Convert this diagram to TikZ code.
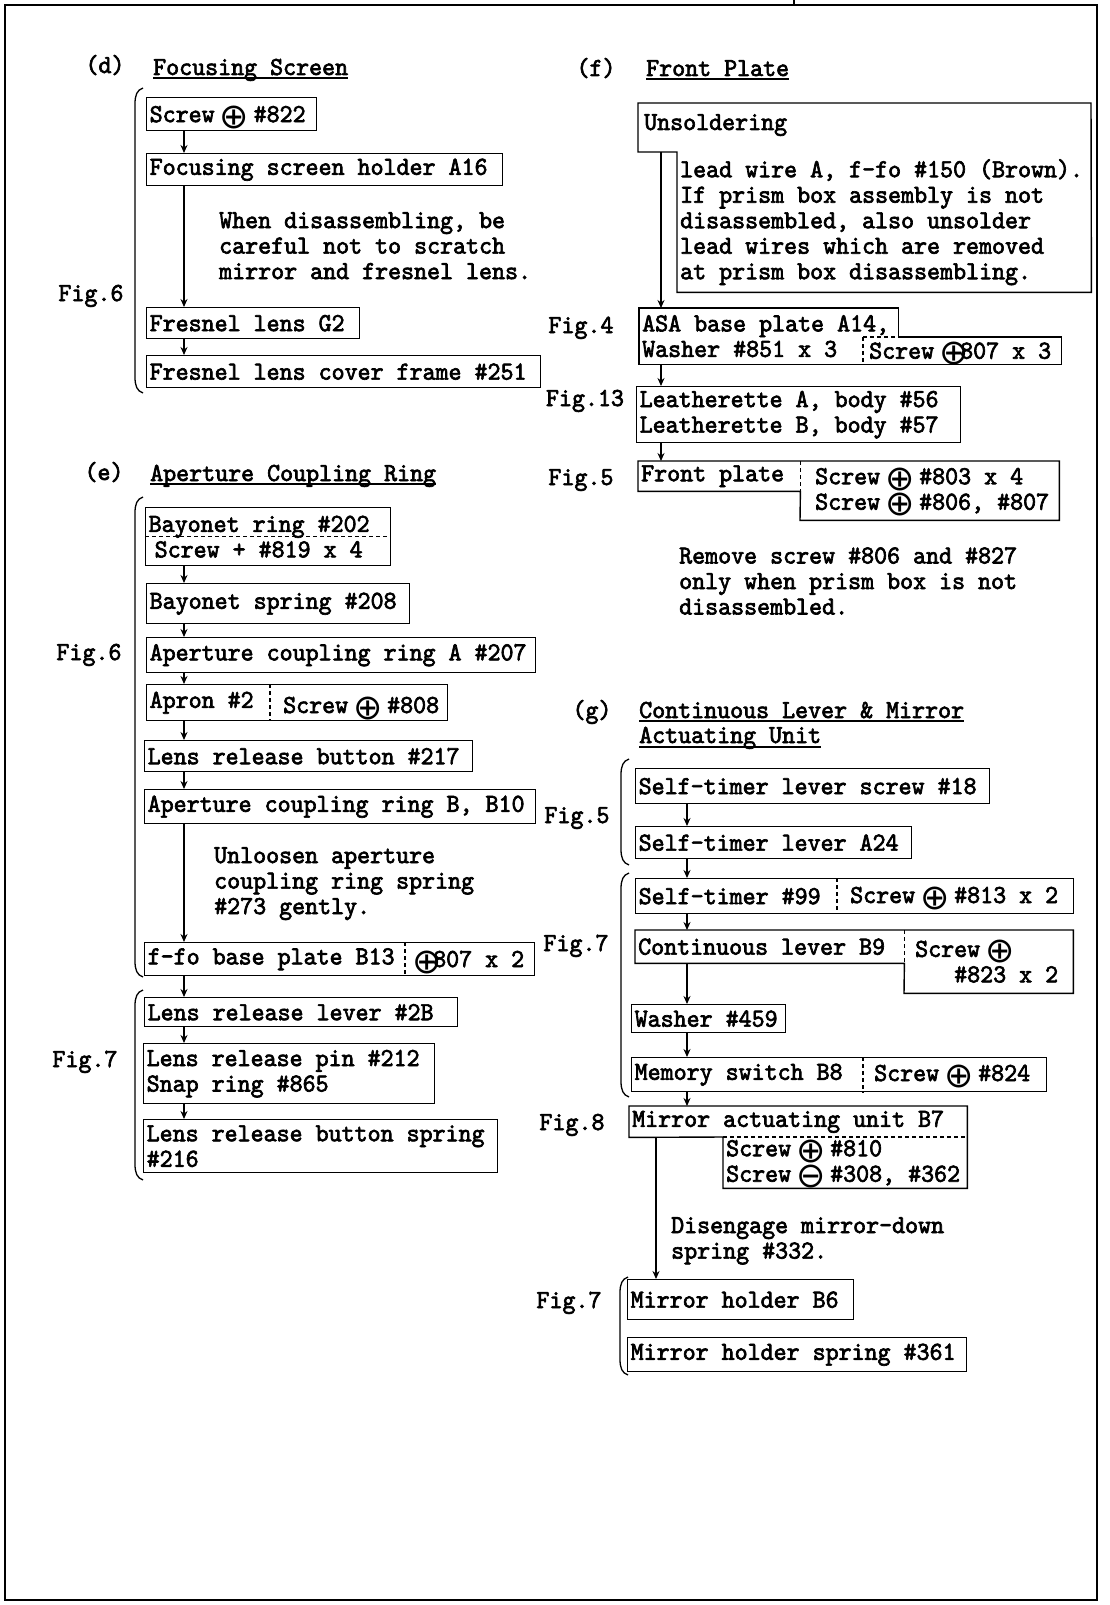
\documentclass[tikz,border=0pt]{standalone}
\usepackage{fontspec}
\usepackage{tikz}
\usetikzlibrary{arrows.meta,calc}
\newfontfamily\tw[Extension=.otf, FakeStretch=0.952, FakeBold=2.5]{lmmono10-regular}
\newfontfamily\symf{DejaVu Sans}
\newcommand\twfont{\tw\fontsize{26}{25.5}\selectfont}
\newcommand\cplus{\makebox[13pt]{\smash{\raisebox{-6pt}{\symf\fontsize{35}{35}\selectfont ⊕}}}}
\newcommand\cminus{\makebox[13pt]{\smash{\raisebox{-6pt}{\symf\fontsize{35}{35}\selectfont ⊖}}}}

\begin{document}
\begin{tikzpicture}[x=1pt, y=-1pt,
    cell/.style={anchor=north west, inner xsep=3pt, inner ysep=0pt, align=left, font=\twfont,
        execute at begin node={\spaceskip=0pt\xspaceskip=0pt}},
    partbox/.style={cell, draw, line width=1.4pt},
    txt/.style={anchor=base west, inner sep=0pt, font=\twfont},
    note/.style={anchor=north west, inner sep=0pt, align=left, font=\twfont,
        execute at begin node={\spaceskip=0pt\xspaceskip=0pt}},
    lab/.style={anchor=base, inner sep=0pt, font=\twfont},
    uline/.style={line width=1.4pt},
    outline/.style={line width=1.4pt},
    sep/.style={line width=1.1pt, dash pattern=on 4pt off 3pt},
    brace/.style={line width=1.3pt},
    arrow/.style={-{Stealth[length=8pt,width=7pt]}, line width=1.3pt}
]
\useasboundingbox (0,0) rectangle (1110,1605);
\draw[line width=2.5pt] (5,5) rectangle (1097,1600);
\draw[line width=2pt] (794,0) -- (794,5);

% braces for the Fig. groups
\foreach \bx/\bt/\bb in {135/88/393, 135/497/977, 135/990/1180, 621/759/865, 621/873/1097, 620/1277/1375}
    {\draw[brace] ({\bx+8},\bt) .. controls ({\bx+2},{\bt+2}) and (\bx,{\bt+7}) .. (\bx,{\bt+16}) -- (\bx,{\bb-16}) .. controls (\bx,{\bb-7}) and ({\bx+2},{\bb-2}) .. ({\bx+8},\bb);}

% (d) focusing screen
\node[lab] (dtag) at (105,73) {(d)};
\node[txt] (dhead) at (153,75) {Focusing Screen};
\draw[uline] ([yshift=-3pt]dhead.base west) -- ([yshift=-3pt]dhead.base east);
\node[lab] (dfig) at (91,301) {Fig.6};
\node[partbox, text width=164pt, minimum height=33pt] (scr822) at (146,97) {Screw \cplus{} \#822};
\node[partbox, text width=350pt, minimum height=32pt] (holder) at (146,153) {Focusing screen holder A16};
\node[note] (dnote) at (219,212) {When disassembling, be\\careful not to scratch\\mirror and fresnel lens.};
\node[partbox, text width=207pt, minimum height=31pt] (fresnel) at (146,307) {Fresnel lens G2};
\node[partbox, text width=388pt, minimum height=32pt] (frame) at (146,355) {Fresnel lens cover frame \#251};
\coordinate (lx) at (184,0);
\draw[arrow] (scr822.south -| lx) -- (holder.north -| lx);
\draw[arrow] (holder.south -| lx) -- (fresnel.north -| lx);
\draw[arrow] (fresnel.south -| lx) -- (frame.north -| lx);

% (e) aperture coupling ring
\node[lab] (etag) at (104,480) {(e)};
\node[txt] (ehead) at (150,481) {Aperture Coupling Ring};
\draw[uline] ([yshift=-3pt]ehead.base west) -- ([yshift=-3pt]ehead.base east);
\node[lab] (efig6) at (89,660) {Fig.6};
\node[lab] (efig7) at (85,1067) {Fig.7};
\node[partbox, text width=239pt, minimum height=58pt] (bayring) at (145,507) {Bayonet ring \#202\\\hspace*{6pt}Screw + \#819 x 4};
\draw[sep] (bayring.west) -- (bayring.east);
\node[partbox, text width=257pt, minimum height=40pt] (bayspr) at (146,583) {Bayonet spring \#208};
\node[partbox, text width=383pt, minimum height=35pt] (ringA) at (146,637) {Aperture coupling ring A \#207};
\node[partbox, text width=295pt, minimum height=36pt] (apron) at (146,684) {Apron \#2};
\node[txt] (apronscr) at (283,713) {Screw \cplus{} \#808};
\draw[sep] ([xshift=124pt]apron.north west) -- ([xshift=124pt]apron.south west);
\node[partbox, text width=322pt, minimum height=31pt] (button) at (144,740) {Lens release button \#217};
\node[partbox, text width=385pt, minimum height=34pt] (ringB) at (144,789) {Aperture coupling ring B, B10};
\node[note] (enote) at (214,847) {Unloosen aperture\\coupling ring spring\\\#273 gently.};
\node[partbox, text width=384pt, minimum height=33pt] (ffo) at (144,942) {f-fo base plate B13};
\node[txt] (ffoscr) at (420,967) {\cplus807 x 2};
\draw[sep] ([xshift=261pt]ffo.north west) -- ([xshift=261pt]ffo.south west);
\node[partbox, text width=307pt, minimum height=29pt] (lever) at (144,997) {Lens release lever \#2B};
\node[partbox, text width=285pt, minimum height=60pt] (pin) at (143,1043) {Lens release pin \#212\\Snap ring \#865};
\node[partbox, text width=348pt, minimum height=53pt] (bspring) at (143,1119) {Lens release button spring\\\#216};
\draw[arrow] (bayring.south -| lx) -- (bayspr.north -| lx);
\draw[arrow] (bayspr.south -| lx) -- (ringA.north -| lx);
\draw[arrow] (ringA.south -| lx) -- (apron.north -| lx);
\draw[arrow] (apron.south -| lx) -- (button.north -| lx);
\draw[arrow] (button.south -| lx) -- (ringB.north -| lx);
\draw[arrow] (ringB.south -| lx) -- (ffo.north -| lx);
\draw[arrow] (ffo.south -| lx) -- (lever.north -| lx);
\draw[arrow] (lever.south -| lx) -- (pin.north -| lx);
\draw[arrow] (pin.south -| lx) -- (bspring.north -| lx);

% (f) front plate
\node[lab] (ftag) at (596,76) {(f)};
\node[txt] (fhead) at (646,76) {Front Plate};
\draw[uline] ([yshift=-3pt]fhead.base west) -- ([yshift=-3pt]fhead.base east);
\node[txt] (unsold) at (644,130) {Unsoldering};
\node[cell, text width=408pt, minimum height=140pt] (unsnote) at (677,152) {lead wire A, f-fo \#150 (Brown).\\If prism box assembly is not\\disassembled, also unsolder\\lead wires which are removed\\at prism box disassembling.};
\draw[outline] (unsnote.north west) -- (638,152) -- (638,103) -- (1091,103) -- (unsnote.south east) -- (unsnote.south west) -- cycle;
\node[lab] (ffig4) at (581,333) {Fig.4};
\node[cell, text width=253pt, minimum height=56pt] (asa) at (639,308) {ASA base plate A14,\\Washer \#851 x 3};
\node[cell, text width=192pt, minimum height=27pt] (asascr) at (863,337) {\hspace*{3pt}Screw \cplus807 x 3};
\draw[outline] (asa.north west) -- (asa.north east) -- (asa.east |- asascr.north) -- (asascr.north east) -- (asascr.south east) -- (asa.south west) -- cycle;
\draw[sep] (asascr.north west) -- (asa.east |- asascr.north);
\draw[sep] (asascr.north west) -- (asascr.south west);
\node[lab] (ffig13) at (585,406) {Fig.13};
\node[partbox, text width=318pt, minimum height=56pt] (leather) at (636,386) {Leatherette A, body \#56\\Leatherette B, body \#57};
\node[lab] (ffig5) at (581,485) {Fig.5};
\node[cell, text width=156pt, minimum height=30pt] (fplate) at (638,461) {Front plate};
\node[cell, text width=253pt, minimum height=59pt] (fpscr) at (800,461) {\hspace*{12pt}Screw \cplus{} \#803 x 4\\\hspace*{12pt}Screw \cplus{} \#806, \#807};
\draw[outline] (fplate.north west) -- (fpscr.north east) -- (fpscr.south east) -- (fpscr.south west) -- (fplate.south east) -- (fplate.south west) -- cycle;
\draw[sep] (fplate.north east) -- (fplate.south east);
\node[note] (fnote) at (679,547) {Remove screw \#806 and \#827\\only when prism box is not\\disassembled.};
\coordinate (fx) at (661,0);
\draw[arrow] (fx |- unsnote.north) -- (fx |- asa.north);
\draw[arrow] (fx |- asa.south) -- (fx |- leather.north);
\draw[arrow] (fx |- leather.south) -- (fx |- fplate.north);

% (g) continuous lever and mirror actuating unit
\node[lab] (gtag) at (592,718) {(g)};
\node[txt] (ghead1) at (639,718) {Continuous Lever \& Mirror};
\node[txt] (ghead2) at (639,743) {Actuating Unit};
\draw[uline] ([yshift=-3pt]ghead1.base west) -- ([yshift=-3pt]ghead1.base east);
\draw[uline] ([yshift=-4pt]ghead2.base west) -- ([yshift=-4pt]ghead2.base east);
\node[lab] (gfig5) at (577,823) {Fig.5};
\node[partbox, text width=348pt, minimum height=35pt] (stscrew) at (635,768) {Self-timer lever screw \#18};
\node[partbox, text width=270pt, minimum height=32pt] (stlever) at (635,826) {Self-timer lever A24};
\node[lab] (gfig7) at (576,951) {Fig.7};
\node[partbox, text width=432pt, minimum height=35pt] (st99) at (635,878) {Self-timer \#99};
\node[txt] (st99scr) at (850,903) {Screw \cplus{} \#813 x 2};
\draw[sep] ([xshift=202pt]st99.north west) -- ([xshift=202pt]st99.south west);
\node[cell, text width=263pt, minimum height=33pt] (contlev) at (635,930) {Continuous lever B9};
\node[cell, text width=163pt, minimum height=63pt] (contscr) at (904,930) {\hspace*{8pt}Screw \cplus\\\hspace*{47pt}\#823 x 2};
\draw[outline] (contlev.north west) -- (contscr.north east) -- (contscr.south east) -- (contscr.south west) -- (contlev.south east) -- (contlev.south west) -- cycle;
\draw[sep] (contlev.north east) -- (contlev.south east);
\node[partbox, text width=148pt, minimum height=28pt] (washer) at (631,1004) {Washer \#459};
\node[partbox, text width=409pt, minimum height=34pt] (memsw) at (631,1057) {Memory switch B8};
\node[txt] (memscr) at (874,1081) {Screw \cplus{} \#824};
\draw[sep] ([xshift=232pt]memsw.north west) -- ([xshift=232pt]memsw.south west);
\node[lab] (gfig8) at (572,1130) {Fig.8};
\node[cell, text width=332pt, minimum height=31pt] (mau) at (629,1106) {Mirror actuating unit B7};
\node[cell, text width=238pt, minimum height=51pt] (mauscr) at (723,1137) {Screw \cplus{} \#810\\Screw \cminus{} \#308, \#362};
\draw[outline] (mau.north west) -- (mau.north east) -- (mauscr.south east) -- (mauscr.south west) -- (mauscr.north west) -- (mau.south west) -- cycle;
\draw[sep] (mauscr.north west) -- (mauscr.north east);
\node[note] (gnote) at (671,1217) {Disengage mirror-down\\spring \#332.};
\node[lab] (gfig7b) at (569,1308) {Fig.7};
\node[partbox, text width=220pt, minimum height=40pt] (mholder) at (627,1279) {Mirror holder B6};
\node[partbox, text width=333pt, minimum height=34pt] (mhspring) at (627,1337) {Mirror holder spring \#361};
\coordinate (gx) at (687,0);
\coordinate (mx) at (656,0);
\draw[arrow] (stscrew.south -| gx) -- (stlever.north -| gx);
\draw[arrow] (stlever.south -| gx) -- (st99.north -| gx);
\draw[arrow] (st99.south -| gx) -- (contlev.north -| gx);
\draw[arrow] (contlev.south -| gx) -- (washer.north -| gx);
\draw[arrow] (washer.south -| gx) -- (memsw.north -| gx);
\draw[arrow] (memsw.south -| gx) -- (mau.north -| gx);
\draw[arrow] (mau.south -| mx) -- (mholder.north -| mx);
\end{tikzpicture}
\end{document}
